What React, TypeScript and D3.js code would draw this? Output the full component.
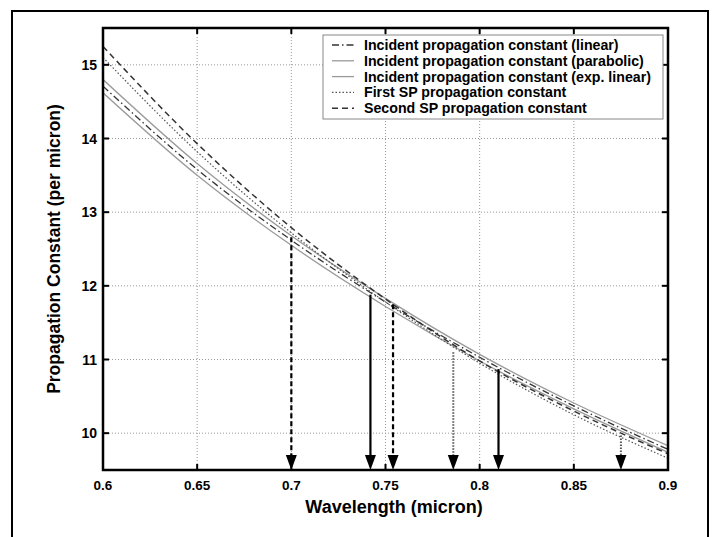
import React from "react";
import * as d3 from "d3";

const wavelengths = [0.6, 0.65, 0.7, 0.75, 0.8, 0.85, 0.9];
const incidentLinear = [14.71, 13.58, 12.62, 11.78, 11.03, 10.37, 9.78];
const incidentParabolic = [14.8, 13.66, 12.68, 11.83, 11.07, 10.41, 9.83];
const incidentExpLinear = [14.62, 13.5, 12.55, 11.72, 10.98, 10.33, 9.74];
const firstSP = [15.1, 13.82, 12.72, 11.78, 10.95, 10.25, 9.66];
const secondSP = [15.25, 13.93, 12.79, 11.82, 10.98, 10.3, 9.72];

const xTicks = [0.6, 0.65, 0.7, 0.75, 0.8, 0.85, 0.9];
const xTickLabels = ["0.6", "0.65", "0.7", "0.75", "0.8", "0.85", "0.9"];
const yTicks = [10, 11, 12, 13, 14, 15];

// arrows: wavelength, starting value, style
const arrowX = [0.7, 0.742, 0.754, 0.786, 0.81, 0.875];
const arrowTop = [12.66, 11.88, 11.75, 11.1, 10.87, 9.97];
const arrowStyle = ["dashed", "solid", "dashed", "dotted", "solid", "dotted"];

const legendLabels = [
  "Incident propagation constant (linear)",
  "Incident propagation constant (parabolic)",
  "Incident propagation constant (exp. linear)",
  "First SP propagation constant",
  "Second SP propagation constant",
];

const W = 716;
const H = 537;
const M = { left: 103, right: 668, top: 28, bottom: 470 };
const FONT = "'Liberation Sans', Arial, Helvetica, sans-serif";

export default function App() {
  const x = d3.scaleLinear().domain([0.6, 0.9]).range([M.left, M.right]);
  const y = d3.scaleLinear().domain([9.5, 15.5]).range([M.bottom, M.top]);
  const line = d3
    .line<number>()
    .x((_, i) => x(wavelengths[i]))
    .y((d) => y(d))
    .curve(d3.curveMonotoneX);

  const series = [
    { data: incidentLinear, stroke: "#333", width: 1.3, dash: "7,3,1.5,3" },
    { data: incidentParabolic, stroke: "#9a9a9a", width: 1.3, dash: "" },
    { data: incidentExpLinear, stroke: "#9a9a9a", width: 1.3, dash: "" },
    { data: firstSP, stroke: "#555", width: 1.2, dash: "1.5,2" },
    { data: secondSP, stroke: "#333", width: 1.5, dash: "6,4" },
  ];

  const arrowDash: Record<string, string> = { dashed: "5,3", solid: "", dotted: "1.5,1.5" };
  const arrowColor: Record<string, string> = { dashed: "#000", solid: "#000", dotted: "#555" };

  const legX = 323, legY = 35, legW = 340, legH = 84, rowH = 15.8;

  return (
    <svg width={W} height={H} style={{ position: "absolute", left: 0, top: 0 }}>
      <rect x={0} y={0} width={W} height={H} fill="#fff" />
      <rect x={12} y={11} width={696} height={540} fill="none" stroke="#000" strokeWidth={2} />
      <defs>
        <clipPath id="plotclip">
          <rect x={M.left} y={M.top} width={M.right - M.left} height={M.bottom - M.top} />
        </clipPath>
      </defs>
      {/* grid */}
      {xTicks.map((t, i) => (
        <line key={"gx" + i} x1={x(t)} x2={x(t)} y1={M.top} y2={M.bottom} stroke="#999" strokeWidth={1} strokeDasharray="1,2" />
      ))}
      {yTicks.map((t, i) => (
        <line key={"gy" + i} x1={M.left} x2={M.right} y1={y(t)} y2={y(t)} stroke="#999" strokeWidth={1} strokeDasharray="1,2" />
      ))}
      {/* curves */}
      <g clipPath="url(#plotclip)">
        {series.map((s, i) => (
          <path key={"s" + i} d={line(s.data) || ""} fill="none" stroke={s.stroke} strokeWidth={s.width} strokeDasharray={s.dash || undefined} />
        ))}
      </g>
      {/* arrows */}
      {arrowX.map((a, i) => {
        const st = arrowStyle[i];
        const px = x(a);
        const top = y(arrowTop[i]);
        const headH = 15;
        const headW = 5.5;
        return (
          <g key={"a" + i}>
            <line x1={px} x2={px} y1={top} y2={M.bottom - headH} stroke={arrowColor[st]} strokeWidth={st === "dotted" ? 2 : 2.2} strokeDasharray={arrowDash[st] || undefined} />
            <path d={`M${px - headW},${M.bottom - headH} L${px + headW},${M.bottom - headH} L${px},${M.bottom} Z`} fill="#000" />
          </g>
        );
      })}
      {/* axes box */}
      <rect x={M.left} y={M.top} width={M.right - M.left} height={M.bottom - M.top} fill="none" stroke="#000" strokeWidth={2.5} />
      {xTicks.map((t, i) => (
        <g key={"xt" + i}>
          <line x1={x(t)} x2={x(t)} y1={M.bottom} y2={M.bottom - 6} stroke="#000" strokeWidth={2} />
          <line x1={x(t)} x2={x(t)} y1={M.top} y2={M.top + 6} stroke="#000" strokeWidth={2} />
          <text x={x(t)} y={490} textAnchor="middle" fontFamily={FONT} fontWeight="bold" fontSize={13.5}>
            {xTickLabels[i]}
          </text>
        </g>
      ))}
      {yTicks.map((t, i) => (
        <g key={"yt" + i}>
          <line x1={M.left} x2={M.left + 6} y1={y(t)} y2={y(t)} stroke="#000" strokeWidth={2} />
          <line x1={M.right} x2={M.right - 6} y1={y(t)} y2={y(t)} stroke="#000" strokeWidth={2} />
          <text x={97} y={y(t) + 5} textAnchor="end" fontFamily={FONT} fontWeight="bold" fontSize={14}>
            {t}
          </text>
        </g>
      ))}
      {/* axis labels */}
      <text x={394} y={513} textAnchor="middle" fontFamily={FONT} fontWeight="bold" fontSize={18}>
        Wavelength (micron)
      </text>
      <text
        transform={`translate(60,${(M.top + M.bottom) / 2}) rotate(-90)`}
        textAnchor="middle"
        fontFamily={FONT}
        fontWeight="bold"
        fontSize={17.5}
      >
        Propagation Constant (per micron)
      </text>
      {/* legend */}
      <rect x={legX} y={legY} width={legW} height={legH} fill="#fff" stroke="#888" strokeWidth={1} />
      {legendLabels.map((lab, i) => {
        const ry = legY + 10 + i * rowH;
        const s = series[i];
        return (
          <g key={"l" + i}>
            <line x1={legX + 9} x2={legX + 31} y1={ry} y2={ry} stroke={s.stroke} strokeWidth={s.width} strokeDasharray={s.dash || undefined} />
            <text x={legX + 41} y={ry + 5} fontFamily={FONT} fontWeight="bold" fontSize={14.2}>
              {lab}
            </text>
          </g>
        );
      })}
    </svg>
  );
}
